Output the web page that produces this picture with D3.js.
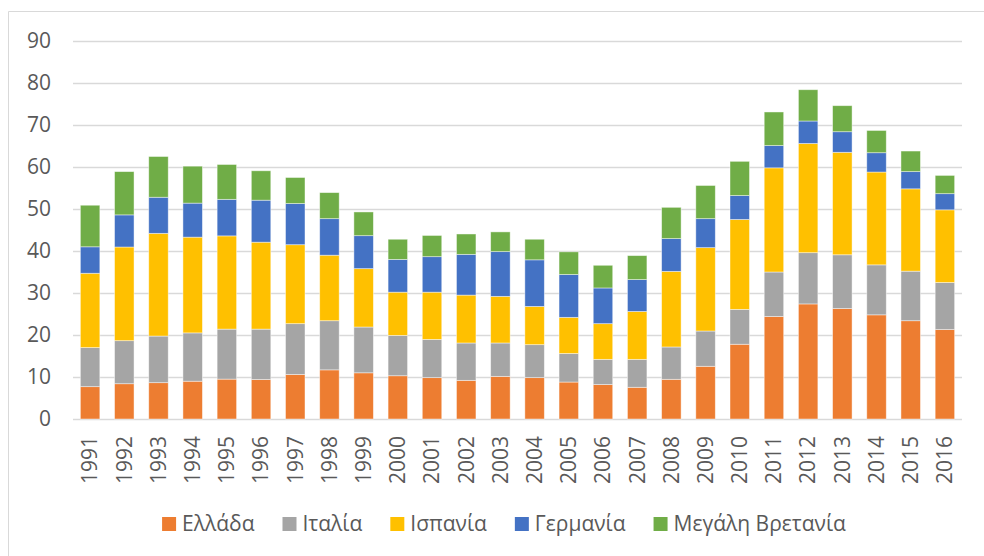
<!DOCTYPE html>
<html>
<head>
<meta charset="utf-8">
<script src="https://cdn.jsdelivr.net/npm/d3@7"></script>
<style>
  body { margin: 0; background: #fff; }
  svg { display: block; }
</style>
</head>
<body>
<svg id="chart" width="984" height="556"></svg>
<script>
const years = ["1991", "1992", "1993", "1994", "1995", "1996", "1997", "1998", "1999", "2000",
  "2001", "2002", "2003", "2004", "2005", "2006", "2007", "2008", "2009", "2010",
  "2011", "2012", "2013", "2014", "2015", "2016"];
const greece = [7.7, 8.4, 8.65, 9.0, 9.5, 9.4, 10.6, 11.7, 11.0, 10.3, 9.85, 9.2, 10.15, 9.85, 8.8, 8.2, 7.55, 9.45, 12.55, 17.8, 24.4, 27.4, 26.3, 24.8, 23.4, 21.3];
const italy = [9.3, 10.25, 11.1, 11.5, 11.9, 12.0, 12.1, 11.7, 10.9, 9.6, 9.1, 8.9, 7.95, 7.85, 6.8, 6.0, 6.65, 7.7, 8.4, 8.3, 10.6, 12.2, 12.8, 11.9, 11.8, 11.2];
const spain = [17.7, 22.3, 24.45, 22.8, 22.2, 20.7, 18.8, 15.6, 13.9, 10.3, 11.25, 11.4, 11.1, 9.1, 8.6, 8.5, 11.4, 18.0, 19.85, 21.4, 24.8, 26.0, 24.4, 22.1, 19.6, 17.3];
const germany = [6.3, 7.65, 8.6, 8.1, 8.7, 10.0, 9.8, 8.7, 7.85, 7.8, 8.45, 9.7, 10.65, 11.1, 10.2, 8.5, 7.6, 7.8, 6.9, 5.7, 5.3, 5.35, 4.9, 4.6, 4.1, 3.85];
const britain = [9.9, 10.3, 9.7, 8.8, 8.3, 7.0, 6.2, 6.2, 5.65, 4.8, 5.05, 4.85, 4.7, 4.9, 5.4, 5.4, 5.7, 7.45, 7.9, 8.15, 8.0, 7.45, 6.2, 5.3, 4.9, 4.35];

const seriesNames = ["Ελλάδα", "Ιταλία", "Ισπανία", "Γερμανία", "Μεγάλη Βρετανία"];
const seriesColors = ["#ED7D31", "#A5A5A5", "#FFC000", "#4472C4", "#70AD47"];
const yTicks = [0, 10, 20, 30, 40, 50, 60, 70, 80, 90];

const svg = d3.select("#chart");
const textColor = "#595959";
const plotLeft = 73, plotRight = 962, plotTop = 41, plotBottom = 419;

// chart frame (only top/left edges are in view)
svg.append("path")
  .attr("d", "M8.5,556 V11.5 H984")
  .attr("fill", "none")
  .attr("stroke", "#d9d9d9")
  .attr("stroke-width", 1);

const rows = years.map((yr, i) => ({
  year: yr,
  [seriesNames[0]]: greece[i],
  [seriesNames[1]]: italy[i],
  [seriesNames[2]]: spain[i],
  [seriesNames[3]]: germany[i],
  [seriesNames[4]]: britain[i]
}));
const stacked = d3.stack().keys(seriesNames)(rows);

const x = d3.scaleBand()
  .domain(years)
  .range([plotLeft, plotRight])
  .paddingInner(0.43)
  .paddingOuter(0.215);

const y = d3.scaleLinear().domain([0, 90]).range([plotBottom, plotTop]);

// gridlines
svg.append("g")
  .attr("transform", `translate(${plotLeft},0)`)
  .call(d3.axisLeft(y).tickValues(yTicks).tickSize(-(plotRight - plotLeft)).tickFormat(""))
  .call(g => g.select(".domain").remove())
  .call(g => g.selectAll("line").attr("stroke", "#d9d9d9").attr("stroke-width", 1.3));

// y labels
svg.append("g")
  .attr("transform", `translate(51,0)`)
  .call(d3.axisLeft(y).tickValues(yTicks).tickSize(0).tickPadding(0))
  .call(g => g.select(".domain").remove())
  .call(g => g.selectAll("text")
    .attr("fill", textColor)
    .style("font-family", "'Open Sans', 'Noto Sans', sans-serif")
    .style("font-size", "21px"));

// bars
svg.append("g")
  .selectAll("g")
  .data(stacked)
  .join("g")
  .attr("fill", (d, i) => seriesColors[i])
  .selectAll("rect")
  .data(d => d)
  .join("rect")
  .attr("x", d => x(d.data.year))
  .attr("width", x.bandwidth())
  .attr("y", d => y(d[1]))
  .attr("height", d => y(d[0]) - y(d[1]))
  .attr("stroke", "#fff")
  .attr("stroke-opacity", 0.55)
  .attr("stroke-width", 0.8);

// x labels, rotated
svg.append("g")
  .attr("transform", `translate(0,${plotBottom})`)
  .call(d3.axisBottom(x).tickSize(0).tickPadding(0))
  .call(g => g.select(".domain").remove())
  .call(g => g.selectAll("text")
    .attr("fill", textColor)
    .attr("transform", "translate(0,17) rotate(-90)")
    .attr("dy", "0.35em")
    .attr("y", 0)
    .attr("text-anchor", "end")
    .style("font-family", "'Open Sans', 'Noto Sans', sans-serif")
    .style("font-size", "21px"));

// legend
const legend = svg.append("g").attr("class", "legend");
const items = legend.selectAll("g")
  .data(seriesNames)
  .join("g");
items.append("rect")
  .attr("width", 14)
  .attr("height", 14)
  .attr("y", -7)
  .attr("fill", (d, i) => seriesColors[i]);
items.append("text")
  .attr("x", 20)
  .attr("dy", "0.35em")
  .attr("fill", textColor)
  .style("font-family", "'Open Sans', 'Noto Sans', sans-serif")
  .style("font-size", "21px")
  .text(d => d);

let cursor = 0;
items.each(function () {
  const w = 20 + d3.select(this).select("text").node().getComputedTextLength();
  d3.select(this).attr("transform", `translate(${cursor},0)`);
  cursor += w + 28;
});
const legendWidth = cursor - 28;
legend.attr("transform", `translate(${504 - legendWidth / 2},524)`);
</script>
</body>
</html>
